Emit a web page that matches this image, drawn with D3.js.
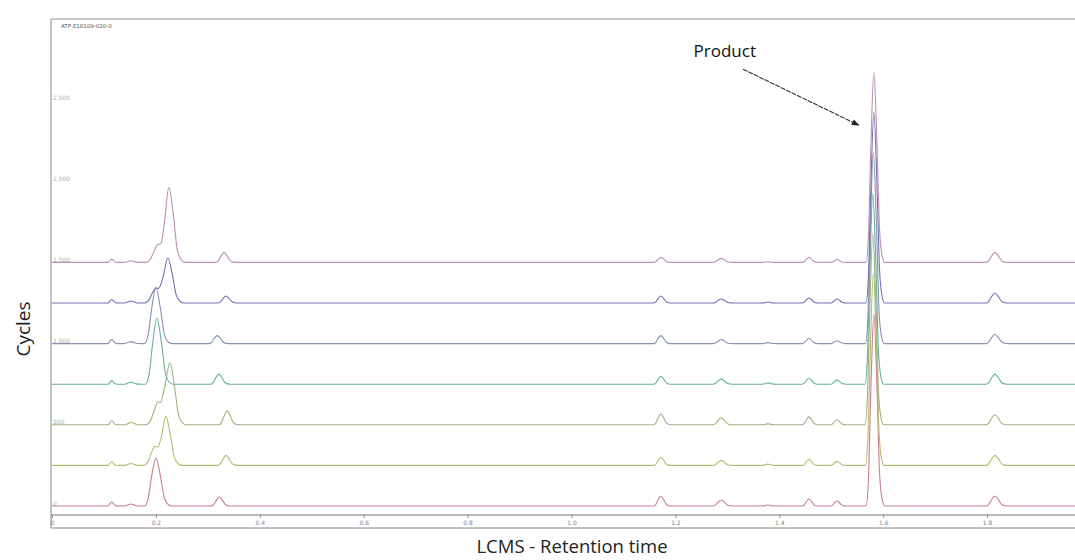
<!DOCTYPE html>
<html>
<head>
<meta charset="utf-8">
<script src="https://cdn.jsdelivr.net/npm/d3@7"></script>
<style>
  body { margin: 0; background: #fff; }
  svg { display: block; }
</style>
</head>
<body>
<div id="chart"></div>
<script>
// sample id printed in the corner of the plot
var sampleId = "ATP-E18109-020-0";

// x ticks (retention time, min) and y ticks (counts)
var xTicks = [0, 0.2, 0.4, 0.6, 0.8, 1.0, 1.2, 1.4, 1.6, 1.8];
var yTicks = [0, 500, 1000, 1500, 2000, 2500];

// each trace is shifted up by this amount (bottom -> top)
var offsets = [0, 250, 500, 750, 1000, 1250, 1500];

// outline of one isolated peak:
// [distance from apex in peak widths, fraction of apex height]
var peakShape = [[-2.6, 0], [-1.8, 0.14], [-1.0, 0.6], [0, 1], [1.0, 0.64], [1.9, 0.17], [2.8, 0.03], [3.6, 0]];

// small peaks shared by every trace: retention time, width
var minorTimes  = [0.115, 0.152, 1.172, 1.288, 1.378, 1.457, 1.511, 1.815];
var minorWidths = [0.0032, 0.0055, 0.0055, 0.0062, 0.0045, 0.0052, 0.0050, 0.0068];
// heights of those peaks per trace (counts above its own baseline)
var minorHeights = [
  [25, 12, 62, 37, 6, 43, 31, 62],
  [22, 12, 49, 31, 8, 37, 25, 62],
  [25, 14, 68, 43, 6, 49, 31, 62],
  [22, 12, 49, 31, 8, 37, 25, 62],
  [25, 12, 49, 25, 6, 31, 18, 58],
  [22, 12, 43, 25, 6, 31, 25, 62],
  [20, 10, 31, 25, 4, 31, 18, 62]
];

// early cluster (0.18 - 0.26 min) per trace, traced point by point: [time, counts]
var earlyPeaks = [
  [[0.178, 0], [0.1847, 41], [0.1915, 178], [0.200, 296], [0.2085, 189], [0.2162, 50], [0.2238, 9], [0.2306, 0]],
  [[0.176, 0], [0.184, 20], [0.191, 75], [0.198, 117], [0.2035, 112], [0.210, 170], [0.219, 302], [0.2275, 195], [0.235, 55], [0.243, 10], [0.250, 0]],
  [[0.181, 0], [0.189, 22], [0.197, 90], [0.204, 142], [0.209, 138], [0.216, 220], [0.227, 382], [0.2355, 245], [0.243, 70], [0.251, 12], [0.258, 0]],
  [[0.180, 0], [0.1867, 57], [0.1935, 244], [0.202, 406], [0.2105, 260], [0.2182, 69], [0.2258, 12], [0.2326, 0]],
  [[0.178, 0], [0.1847, 48], [0.1915, 207], [0.200, 345], [0.2085, 221], [0.2162, 59], [0.2238, 10], [0.2306, 0]],
  [[0.178, 0], [0.186, 16], [0.193, 60], [0.200, 92], [0.205, 90], [0.213, 150], [0.223, 277], [0.2315, 178], [0.239, 50], [0.247, 9], [0.254, 0]],
  [[0.181, 0], [0.189, 18], [0.197, 72], [0.204, 111], [0.2095, 115], [0.216, 235], [0.225, 462], [0.2335, 295], [0.241, 80], [0.249, 14], [0.256, 0]]
];

// peak around 0.33 min per trace: [time, counts]
var thirdPeak = [[0.322, 55], [0.335, 62], [0.337, 86], [0.321, 62], [0.318, 49], [0.335, 43], [0.331, 62]];
var thirdWidth = 0.0062;

// product peak per trace: [time, counts]
var productPeak = [[1.582, 1185], [1.581, 1185], [1.580, 1175], [1.580, 1175], [1.581, 1175], [1.582, 1175], [1.582, 1170]];
var productWidth = 0.0058;

var colors = ["#c97f8b", "#b8ba72", "#a0b47e", "#64b0a0", "#8893b0", "#7472b3", "#bc8fb4"];

var W = 1075, H = 560;

var svg = d3.select("#chart").append("svg")
  .attr("width", W)
  .attr("height", H);

var x = d3.scaleLinear().domain([0, 2]).range([52, 1091]);
var y = d3.scaleLinear().domain([0, 3000]).range([506, 18.8]);

// frame
var frame = svg.append("g").attr("stroke", "#999").attr("stroke-width", 1.2);
frame.append("line").attr("x1", 51).attr("x2", W).attr("y1", 19).attr("y2", 19);
frame.append("line").attr("x1", 51).attr("x2", 51).attr("y1", 19).attr("y2", 528);
frame.append("line").attr("x1", 51).attr("x2", W).attr("y1", 528).attr("y2", 528).attr("stroke", "#888");

// x axis
var xAxis = svg.append("g")
  .attr("transform", "translate(0,515)")
  .call(d3.axisBottom(x)
    .tickValues(xTicks)
    .tickSize(3)
    .tickPadding(3)
    .tickFormat(function(d){ return d === 0 ? "0" : d3.format(".1f")(d); }));
xAxis.select(".domain").attr("stroke", "#777").attr("stroke-width", 1.2).attr("d", "M51,0H" + W);
xAxis.selectAll(".tick line").attr("stroke", "#888");
xAxis.selectAll("text").attr("fill", "#808080").style("font", "6px 'DejaVu Sans', sans-serif");

// y axis labels sit inside the plot
var yAxis = svg.append("g")
  .attr("transform", "translate(51,0)")
  .call(d3.axisRight(y)
    .tickValues(yTicks)
    .tickSize(0)
    .tickPadding(2)
    .tickFormat(d3.format(",")));
yAxis.select(".domain").remove();
yAxis.selectAll("text")
  .attr("fill", "#b0b0b0")
  .attr("dy", "-0.15em")
  .style("font", "6px 'DejaVu Sans', sans-serif");

svg.append("text")
  .attr("x", 61).attr("y", 28)
  .attr("fill", "#555")
  .style("font", "5.5px 'DejaVu Sans', sans-serif")
  .text(sampleId);

// place the peak outline at a given time / height / width
function addPeak(pts, t, h, w) {
  peakShape.forEach(function(s){ pts.push([t + s[0] * w, s[1] * h]); });
}

function tracePoints(i) {
  var pts = [[0, 0], [1.99, 0]];
  minorTimes.forEach(function(t, k) {
    addPeak(pts, t, minorHeights[i][k], minorWidths[k]);
  });
  earlyPeaks[i].forEach(function(p){ pts.push(p); });
  addPeak(pts, thirdPeak[i][0], thirdPeak[i][1], thirdWidth);
  addPeak(pts, productPeak[i][0], productPeak[i][1], productWidth);
  pts.sort(function(a, b){ return a[0] - b[0]; });
  return pts;
}

svg.append("clipPath").attr("id", "plotClip")
  .append("rect").attr("x", 52).attr("y", 19).attr("width", W - 52).attr("height", 496);

var traces = svg.append("g").attr("clip-path", "url(#plotClip)");
offsets.forEach(function(off, i) {
  var line = d3.line()
    .x(function(d){ return x(d[0]); })
    .y(function(d){ return y(d[1] + off); })
    .curve(d3.curveMonotoneX);
  traces.append("path")
    .datum(tracePoints(i))
    .attr("fill", "none")
    .attr("stroke", colors[i])
    .attr("stroke-width", 1.1)
    .attr("d", line);
});

// product annotation
var note = { text: "Product", t: 1.295, v: 2762, from: [1.330, 2690], to: [1.553, 2345] };

svg.append("defs").append("marker")
  .attr("id", "arrow")
  .attr("viewBox", "0 0 10 10")
  .attr("refX", 9).attr("refY", 5)
  .attr("markerWidth", 7).attr("markerHeight", 7)
  .attr("orient", "auto")
  .append("path").attr("d", "M0,1L10,5L0,9Z").attr("fill", "#222");

svg.append("line")
  .attr("x1", x(note.from[0])).attr("y1", y(note.from[1]))
  .attr("x2", x(note.to[0])).attr("y2", y(note.to[1]))
  .attr("stroke", "#333").attr("stroke-width", 1.1)
  .attr("stroke-dasharray", "5,1")
  .attr("marker-end", "url(#arrow)");

svg.append("text")
  .attr("x", x(note.t)).attr("y", y(note.v))
  .attr("text-anchor", "middle")
  .attr("fill", "#111")
  .style("font", "17px 'Open Sans', sans-serif")
  .text(note.text);

// axis titles
svg.append("text")
  .attr("x", 572).attr("y", 553)
  .attr("text-anchor", "middle")
  .attr("fill", "#222")
  .style("font", "18.5px 'Open Sans', sans-serif")
  .text("LCMS - Retention time");

svg.append("text")
  .attr("transform", "translate(30,329) rotate(-90)")
  .attr("text-anchor", "middle")
  .attr("fill", "#222")
  .style("font", "19px 'Open Sans', sans-serif")
  .text("Cycles");
</script>
</body>
</html>
